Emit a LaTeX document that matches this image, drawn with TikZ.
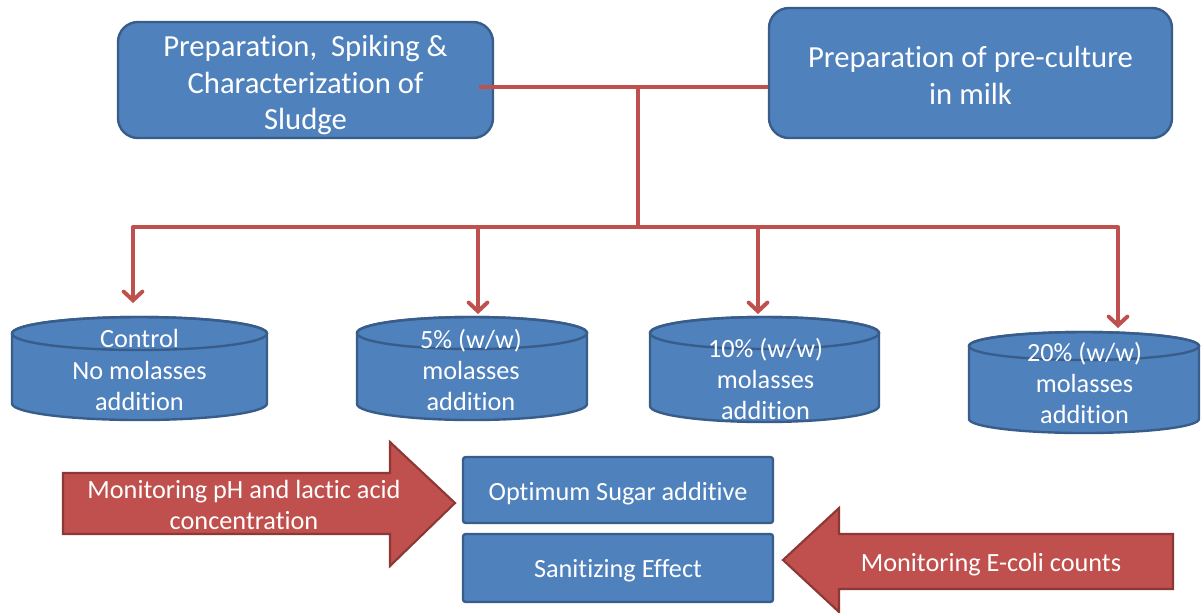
\documentclass[tikz,border=0pt]{standalone}
\usepackage{fontspec}
\setmainfont[Ligatures=NoCommon]{Carlito}
\usetikzlibrary{arrows.meta}
\definecolor{bfill}{HTML}{4F81BD}
\definecolor{bdraw}{HTML}{385D8A}
\definecolor{rfill}{HTML}{C0504D}
\definecolor{rdraw}{HTML}{8C3836}
\newcommand\drawcan[5]{% cx, half width, top, bottom, ry
  \filldraw[canshape] (#1-#2,#3+#5) -- (#1-#2,#4-#5)
    arc[start angle=180,end angle=0,x radius=#2,y radius=#5]
    -- (#1+#2,#3+#5)
    arc[start angle=0,end angle=-180,x radius=#2,y radius=#5] -- cycle;
  \draw[canshape,fill=none] (#1,#3+#5) ellipse[x radius=#2,y radius=#5];
}
\begin{document}
\begin{tikzpicture}[x=0.75pt,y=-0.75pt,
  topbox/.style={draw=bdraw, fill=bfill, line width=1.8pt, rounded corners=15pt,
    inner sep=0pt},
  toptext/.style={text=white, align=center, inner sep=0pt,
    font=\fontsize{23}{27.5}\selectfont},
  lowbox/.style={draw=bdraw, fill=bfill, line width=1.8pt, rounded corners=2pt,
    inner sep=0pt},
  smalltext/.style={text=white, align=center, inner sep=0pt,
    font=\fontsize{19.7}{23.3}\selectfont},
  canshape/.style={draw=bdraw, fill=bfill, line width=1.8pt},
  bigarrow/.style={draw=rdraw, fill=rfill, line width=1.6pt, line join=miter},
  conn/.style={draw=rfill, line width=3pt, line join=round},
  cona/.style={conn, -{Straight Barb[length=6.5pt,width=14pt,line cap=round]}}
]
\useasboundingbox (0,0) rectangle (1202,612);

% top boxes
\node[topbox, minimum width=281.25pt, minimum height=87pt] (box1) at (305.5,80) {};
\node[toptext] (box1t) at ([yshift=-3.75pt]box1.center)
  {Preparation,~ Spiking \&\\Characterization of\\Sludge};
\node[topbox, minimum width=302.25pt, minimum height=97.5pt] (box2) at (970.5,73) {};
\node[toptext] (box2t) at ([yshift=-2pt]box2.center)
  {Preparation of pre-culture\\in milk};

% cylinders
\drawcan{139.5}{127.5}{317}{420}{16.5}
\drawcan{472}{115}{317}{420}{16}
\drawcan{764.5}{114.5}{317}{422}{16}
\drawcan{1084}{115}{332}{433}{14}
\node[smalltext] (c1) at (139.5,370) {Control\\No molasses\\addition};
\node[smalltext] (c2) at (471,370) {5\% (w/w)\\molasses\\addition};
\node[smalltext] (c3) at (765.5,379) {10\% (w/w)\\molasses\\addition};
\node[smalltext] (c4) at (1084.5,383) {20\% (w/w)\\molasses\\addition};

% connectors
\coordinate (j1) at (638,87);
\coordinate (j2) at (638,227);
\coordinate (t1) at (133,303);
\coordinate (t2) at (478,314);
\coordinate (t3) at (758,314);
\coordinate (t4) at (1118,328);
\draw[conn] ([xshift=-11.25pt]box1.east |- j1) -- (box2.west |- j1);
\draw[conn] (j1) -- (j2);
\draw[cona] (j2) -| (t1);
\draw[cona] (j2) -| (t4);
\draw[cona] (t2 |- j2) -- (t2);
\draw[cona] (t3 |- j2) -- (t3);

% bottom boxes
\node[lowbox, minimum width=232.5pt, minimum height=49.5pt] (opt) at (618,490) {};
\node[smalltext] (optt) at ([yshift=-2.5pt]opt.center) {Optimum Sugar additive};
\node[lowbox, minimum width=232.5pt, minimum height=51pt] (san) at (618,568) {};
\node[smalltext] (sant) at ([yshift=-2.25pt]san.center) {Sanitizing Effect};

% block arrows
\path[bigarrow] (63,473) -- (390,473) -- (390,442) -- (455,503) -- (390,566)
  -- (390,534) -- (63,534) -- cycle;
\node[smalltext] (m1) at (244,505) {Monitoring pH and lactic acid\\concentration};
\path[bigarrow] (1173,534) -- (839,534) -- (839,508) -- (783,560) -- (839,612)
  -- (839,589) -- (1173,589) -- cycle;
\node[smalltext] (m2) at (991,565) {Monitoring E-coli counts};
\end{tikzpicture}
\end{document}
